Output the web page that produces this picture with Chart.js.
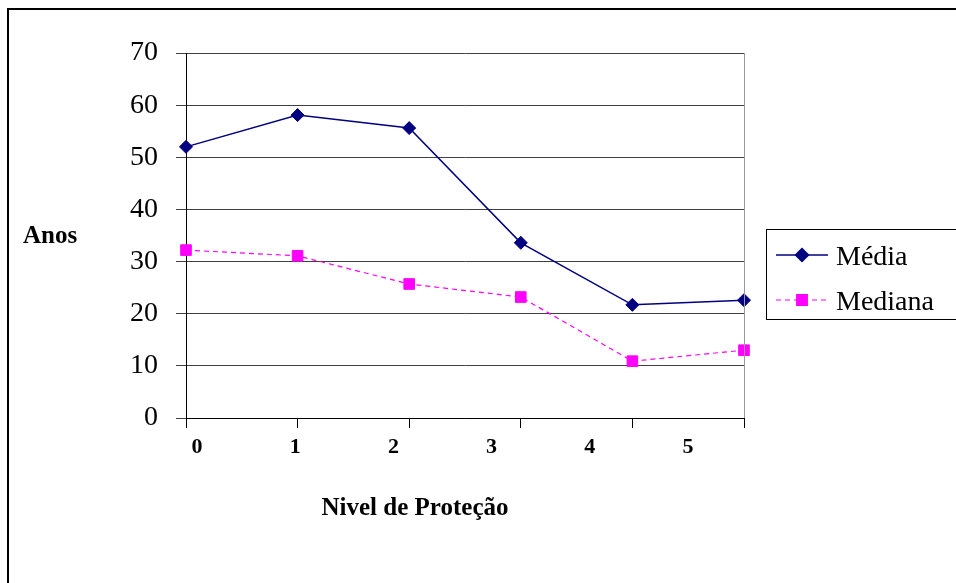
<!DOCTYPE html>
<html>
<head>
<meta charset="utf-8">
<script src="https://cdn.jsdelivr.net/npm/chart.js@4.4.0/dist/chart.umd.min.js"></script>
<style>
  html, body { margin: 0; padding: 0; background: #fff; }
  canvas { display: block; }
</style>
</head>
<body>
<canvas id="chart" width="956" height="583"></canvas>
<script>
// ====== Data ======
const NIVEIS = [0, 1, 2, 3, 4, 5];
const MEDIA = [52.0, 58.1, 55.6, 33.6, 21.7, 22.6];
const MEDIANA = [32.2, 31.1, 25.7, 23.2, 10.9, 13.0];
const Y_TICKS = [0, 10, 20, 30, 40, 50, 60, 70];
const X_LABELS = ["0", "1", "2", "3", "4", "5"];

const SERIF = "'Liberation Serif', 'Times New Roman', serif";

// ====== Extra drawing: frame, titles, legend ======
const decorations = {
  id: "decorations",
  beforeDraw(chart) {
    const ctx = chart.ctx;
    ctx.save();
    ctx.fillStyle = "#fff";
    ctx.fillRect(0, 0, chart.width, chart.height);
    ctx.restore();
  },
  afterDraw(chart) {
    const ctx = chart.ctx;
    const area = chart.chartArea;
    ctx.save();

    // right edge of plot area
    ctx.strokeStyle = "#999";
    ctx.lineWidth = 1;
    ctx.beginPath();
    ctx.moveTo(Math.round(area.right) + 0.5, area.top);
    ctx.lineTo(Math.round(area.right) + 0.5, area.bottom);
    ctx.stroke();

    // outer frame
    ctx.strokeStyle = "#000";
    ctx.lineWidth = 2;
    ctx.strokeRect(8, 9, 1200, 1200);

    // axis titles
    ctx.fillStyle = "#000";
    ctx.font = "bold 25px " + SERIF;
    ctx.textBaseline = "alphabetic";
    ctx.textAlign = "left";
    ctx.fillText("Anos", 23, 243);
    ctx.textAlign = "center";
    ctx.fillText("Nivel de Proteção", 415, 515);

    // legend
    ctx.lineWidth = 1;
    ctx.strokeStyle = "#000";
    ctx.strokeRect(766.5, 229.5, 300, 90);
    const rows = [255, 300];
    chart.data.datasets.forEach((ds, i) => {
      const y = rows[i];
      ctx.strokeStyle = ds.borderColor;
      ctx.lineWidth = ds.borderWidth;
      ctx.setLineDash(ds.borderDash || []);
      ctx.beginPath();
      ctx.moveTo(776, y);
      ctx.lineTo(828, y);
      ctx.stroke();
      ctx.setLineDash([]);
      ctx.fillStyle = ds.backgroundColor;
      Chart.helpers.drawPoint(ctx, {
        pointStyle: ds.pointStyle,
        radius: ds.pointRadius,
        borderWidth: 1,
        rotation: 0
      }, 802, y);
      ctx.fillStyle = "#000";
      ctx.font = "28px " + SERIF;
      ctx.textAlign = "left";
      ctx.fillText(ds.label, 836, y + 10);
    });

    ctx.restore();
  }
};

// ====== Chart Setup ======
const ctx = document.getElementById("chart").getContext("2d");
const chart = new Chart(ctx, {
  type: "line",
  data: {
    datasets: [{
      label: "Média",
      data: NIVEIS.map((n, i) => ({ x: n, y: MEDIA[i] })),
      borderColor: "#000080",
      backgroundColor: "#000080",
      borderWidth: 1.5,
      pointStyle: "rectRot",
      pointRadius: 6.5,
      pointBorderWidth: 1,
      tension: 0,
      clip: false
    }, {
      label: "Mediana",
      data: NIVEIS.map((n, i) => ({ x: n, y: MEDIANA[i] })),
      borderColor: "#FF00FF",
      backgroundColor: "#FF00FF",
      borderWidth: 1.2,
      borderDash: [5, 4],
      pointStyle: "rect",
      pointRadius: 7.5,
      pointBorderWidth: 1,
      tension: 0,
      clip: false
    }]
  },
  options: {
    responsive: false,
    devicePixelRatio: 1,
    animation: false,
    layout: { padding: { left: 0, top: 53, right: 212, bottom: 125 } },
    plugins: {
      legend: { display: false },
      tooltip: { enabled: false }
    },
    scales: {
      y: {
        min: 0,
        max: 70,
        afterFit: s => { s.width = 186; },
        afterBuildTicks: s => { s.ticks = Y_TICKS.map(v => ({ value: v })); },
        ticks: {
          padding: 18,
          color: "#000",
          font: { family: SERIF, size: 28 }
        },
        grid: { color: "#404040", tickLength: 10, tickColor: "#404040" },
        border: { color: "#000", width: 1 }
      },
      x: {
        type: "linear",
        position: "bottom",
        weight: 0,
        min: 0,
        max: 5,
        afterFit: s => { s.height = 10; },
        afterBuildTicks: s => { s.ticks = NIVEIS.map(v => ({ value: v })); },
        ticks: { display: false },
        grid: { drawOnChartArea: false, tickLength: 10, tickColor: "#000" },
        border: { color: "#000", width: 1 }
      },
      x2: {
        type: "linear",
        position: "bottom",
        weight: 1,
        min: -0.112,
        max: 5.57,
        afterFit: s => { s.height = 30; },
        afterBuildTicks: s => { s.ticks = NIVEIS.map(v => ({ value: v })); },
        ticks: {
          padding: 6,
          color: "#000",
          font: { family: SERIF, size: 22, weight: "bold" },
          callback: (v, i) => X_LABELS[i]
        },
        grid: { display: false, drawTicks: false },
        border: { display: false }
      }
    }
  },
  plugins: [decorations]
});
</script>
</body>
</html>
